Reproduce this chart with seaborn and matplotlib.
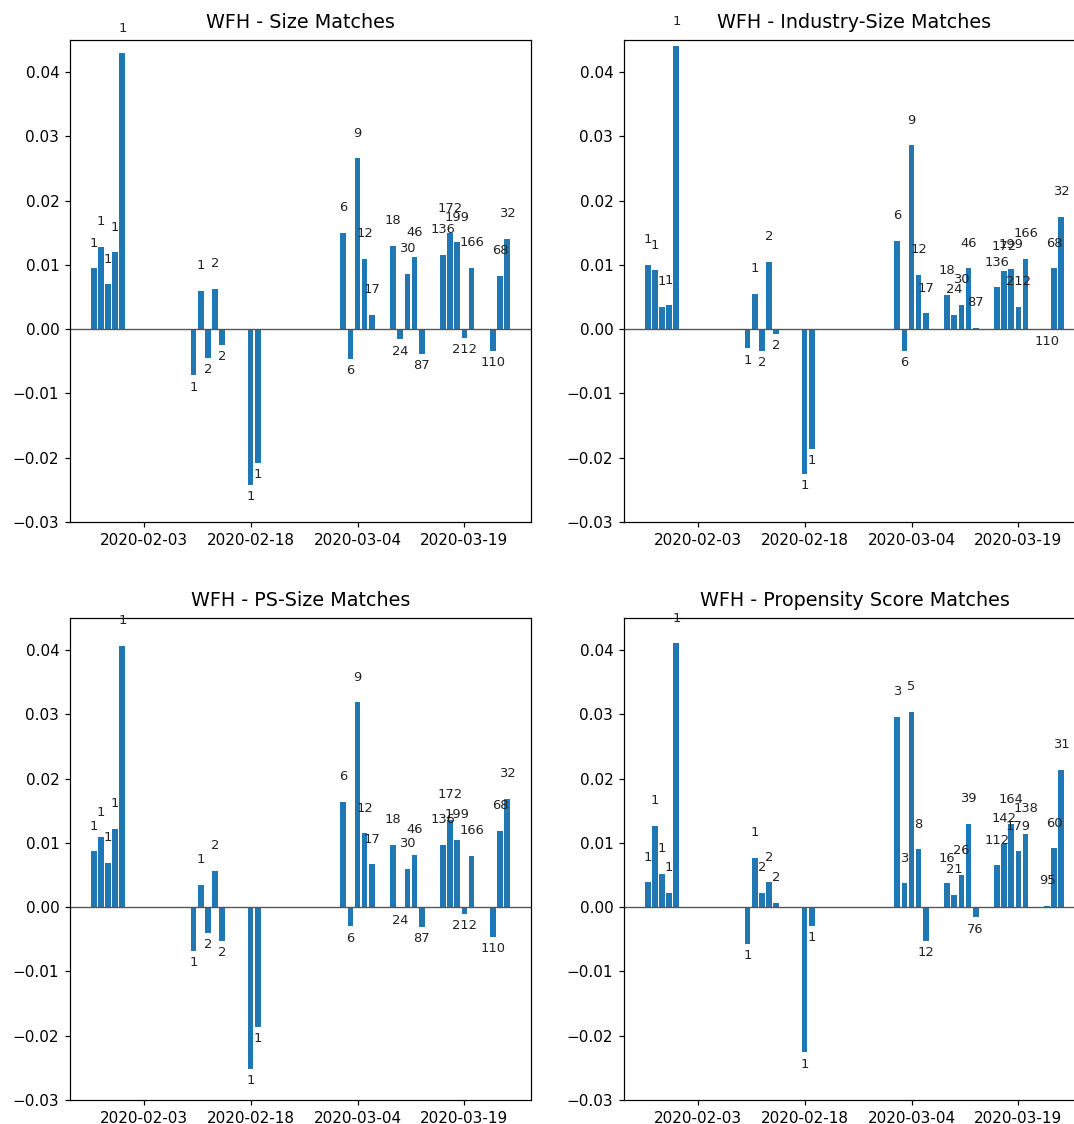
import numpy as np
import pandas as pd
import matplotlib
matplotlib.use("Agg")
import matplotlib.pyplot as plt
import matplotlib.dates as mdates
import seaborn as sns

# ------------------------------------------------------------
# Données
# ------------------------------------------------------------
dates = ["2020-01-27", "2020-01-28", "2020-01-29", "2020-01-30", "2020-01-31",
         "2020-02-10", "2020-02-11", "2020-02-12", "2020-02-13", "2020-02-14",
         "2020-02-18", "2020-02-19",
         "2020-03-02", "2020-03-03", "2020-03-04", "2020-03-05", "2020-03-06",
         "2020-03-09", "2020-03-10", "2020-03-11", "2020-03-12", "2020-03-13",
         "2020-03-16", "2020-03-17", "2020-03-18", "2020-03-19", "2020-03-20",
         "2020-03-23", "2020-03-24", "2020-03-25"]

tick_dates = ["2020-02-03", "2020-02-18", "2020-03-04", "2020-03-19"]

size_vals = [0.0095, 0.0128, 0.0070, 0.0120, 0.0429,
             -0.0072, 0.0060, -0.0045, 0.0063, -0.0024,
             -0.0242, -0.0208,
             0.0150, -0.0046, 0.0266, 0.0110, 0.0022,
             0.0130, -0.0016, 0.0086, 0.0112, -0.0039,
             0.0116, 0.0149, 0.0135, -0.0014, 0.0096,
             -0.0034, 0.0083, 0.0141]

ind_vals = [0.0100, 0.0092, 0.0035, 0.0037, 0.0440,
            -0.0030, 0.0055, -0.0034, 0.0105, -0.0007,
            -0.0225, -0.0187,
            0.0138, -0.0034, 0.0286, 0.0085, 0.0025,
            0.0053, 0.0022, 0.0038, 0.0095, 0.0002,
            0.0065, 0.0090, 0.0093, 0.0035, 0.0110,
            -0.0001, 0.0095, 0.0175]

ps_vals = [0.0087, 0.0109, 0.0069, 0.0122, 0.0407,
           -0.0068, 0.0035, -0.0040, 0.0057, -0.0053,
           -0.0252, -0.0187,
           0.0164, -0.0030, 0.0319, 0.0115, 0.0067,
           0.0097, -0.0002, 0.0060, 0.0082, -0.0031,
           0.0097, 0.0136, 0.0105, -0.0011, 0.0080,
           -0.0047, 0.0119, 0.0169]

pscore_vals = [0.0039, 0.0127, 0.0052, 0.0022, 0.0411,
               -0.0057, 0.0077, 0.0022, 0.0039, 0.0007,
               -0.0226, -0.0029,
               0.0296, 0.0037, 0.0304, 0.0090, -0.0052,
               0.0037, 0.0019, 0.0050, 0.0130, -0.0016,
               0.0065, 0.0099, 0.0129, 0.0087, 0.0114,
               0.0002, 0.0092, 0.0214]

match_counts = [1, 1, 1, 1, 1, 1, 1, 2, 2, 2, 1, 1,
                6, 6, 9, 12, 17, 18, 24, 30, 46, 87,
                136, 172, 199, 212, 166, 110, 68, 32]

pscore_counts = [1, 1, 1, 1, 1, 1, 1, 2, 2, 2, 1, 1,
                 3, 3, 5, 8, 12, 16, 21, 26, 39, 76,
                 112, 142, 164, 179, 138, 95, 60, 31]

titles = ["WFH - Size Matches", "WFH - Industry-Size Matches",
          "WFH - PS-Size Matches", "WFH - Propensity Score Matches"]

# ------------------------------------------------------------
# Figure
# ------------------------------------------------------------
W, H, DPI = 1074, 1124, 110
fig = plt.figure(figsize=(W / DPI, H / DPI), dpi=DPI)

# positions des axes en pixels (gauche, haut)
positions = [(70, 40), (624, 40), (70, 618), (624, 618)]
ax_w, ax_h = 461, 482

series = [(size_vals, match_counts), (ind_vals, match_counts),
          (ps_vals, match_counts), (pscore_vals, pscore_counts)]

xnum = mdates.date2num(pd.to_datetime(dates))

for (vals, counts), title, (px, py) in zip(series, titles, positions):
    ax = fig.add_axes([px / W, 1 - (py + ax_h) / H, ax_w / W, ax_h / H])
    df = pd.DataFrame({"date": xnum, "value": vals, "n": counts})
    sns.barplot(data=df, x="date", y="value", native_scale=True, orient="x",
                color="#1f77b4", saturation=1, errorbar=None, linewidth=0, ax=ax)
    ax.axhline(0, color="#555555", linewidth=0.9)
    # nombre de matches au-dessus / en dessous de chaque barre
    for x, v, n in zip(df["date"], df["value"], df["n"]):
        y = v + 0.0039 if v >= 0 else v - 0.0018
        ax.text(x, y, str(n), ha="center", va="center", fontsize=8.5, color="#222222")
    ax.set_ylim(-0.03, 0.045)
    ax.set_yticks(np.arange(-0.03, 0.041, 0.01))
    ax.set_xlim(xnum.min() - 0.4 - 2.94, xnum.max() + 0.4 + 2.94)
    ax.set_xticks(mdates.date2num(pd.to_datetime(tick_dates)))
    ax.xaxis.set_major_formatter(mdates.DateFormatter("%Y-%m-%d"))
    ax.set_xlabel("")
    ax.set_ylabel("")
    ax.set_title(title, fontsize=12.5, pad=8)
    ax.tick_params(labelsize=10)

plt.savefig("out.png", dpi=DPI)
